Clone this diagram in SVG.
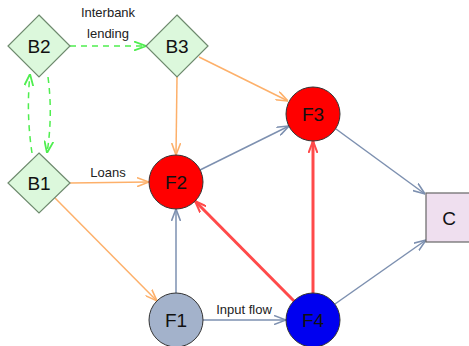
<svg xmlns="http://www.w3.org/2000/svg" width="469" height="346" viewBox="0 0 469 346">
<defs>
<style>
.lbl{font-family:"Liberation Sans",Arial,sans-serif;font-size:19px;fill:#111;text-anchor:middle}
.elbl{font-family:"Liberation Sans",Arial,sans-serif;font-size:13px;fill:#222;text-anchor:middle}
.dia{fill:#dcf8dc;stroke:#6e8a6e;stroke-width:1.2}
.circ{stroke:#333;stroke-width:1}
.e{fill:none}
.or{stroke:#fdb06a;stroke-width:1.5}
.bl{stroke:#7d90b0;stroke-width:1.5}
.rd{stroke:#ff4a4a;stroke-width:3}
.gr{stroke:#4fee4f;stroke-width:1.5;stroke-dasharray:6,5}
</style>
<marker id="aor" viewBox="0 0 12 10" refX="12" refY="5" markerWidth="12" markerHeight="10" markerUnits="userSpaceOnUse" orient="auto"><path d="M0,0.5 L12,5 L0,9.5" fill="none" stroke="#fdb06a" stroke-width="1.6"/></marker>
<marker id="abl" viewBox="0 0 12 10" refX="12" refY="5" markerWidth="12" markerHeight="10" markerUnits="userSpaceOnUse" orient="auto"><path d="M0,0.5 L12,5 L0,9.5" fill="none" stroke="#7d90b0" stroke-width="1.6"/></marker>
<marker id="ard" viewBox="0 0 12 10" refX="12" refY="5" markerWidth="12" markerHeight="10" markerUnits="userSpaceOnUse" orient="auto"><path d="M0,0.5 L12,5 L0,9.5" fill="none" stroke="#ff4a4a" stroke-width="2"/></marker>
<marker id="agr" viewBox="0 0 12 10" refX="12" refY="5" markerWidth="12" markerHeight="10" markerUnits="userSpaceOnUse" orient="auto"><path d="M0,0.5 L12,5 L0,9.5" fill="none" stroke="#4fee4f" stroke-width="1.8"/></marker>
</defs>
<rect width="469" height="346" fill="#fff"/>
<g id="connectors">
<path class="e gr" d="M70,46 L146,46" marker-end="url(#agr)"/>
<path class="e gr" d="M32,153 Q26,113 30,74" marker-end="url(#agr)"/>
<path class="e gr" d="M48,77 Q53,115 47,153" marker-end="url(#agr)"/>
<path class="e or" d="M177,77 L176,155" marker-end="url(#aor)"/>
<path class="e or" d="M199,57 L288,101" marker-end="url(#aor)"/>
<path class="e or" d="M70,183 L149,182" marker-end="url(#aor)"/>
<path class="e or" d="M55,198 L157,301" marker-end="url(#aor)"/>
<path class="e bl" d="M176,293 L176,209" marker-end="url(#abl)"/>
<path class="e bl" d="M200,170 L289,126" marker-end="url(#abl)"/>
<path class="e bl" d="M203,320 L286,320" marker-end="url(#abl)"/>
<path class="e bl" d="M336,129 L425,194" marker-end="url(#abl)"/>
<path class="e bl" d="M335,304 L426,240" marker-end="url(#abl)"/>
<path class="e rd" d="M294,301 L195,201" marker-end="url(#ard)"/>
<path class="e rd" d="M313,293 L313,141" marker-end="url(#ard)"/>
<text class="elbl" x="108" y="17">Interbank</text>
<text class="elbl" x="108" y="38">lending</text>
<text class="elbl" x="108" y="177">Loans</text>
<text class="elbl" x="244" y="314">Input flow</text>
</g>
<g id="B2"><polygon class="dia" points="39,15 70,46 39,77 8,46"/><text class="lbl" x="39" y="53">B2</text></g>
<g id="B3"><polygon class="dia" points="177,15 208,46 177,77 146,46"/><text class="lbl" x="177" y="53">B3</text></g>
<g id="B1"><polygon class="dia" points="39,153 70,183 39,213 8,183"/><text class="lbl" x="39" y="190">B1</text></g>
<g id="F2"><circle class="circ" cx="176" cy="182" r="27" fill="#ff0000"/><text class="lbl" x="176" y="189">F2</text></g>
<g id="F3"><circle class="circ" cx="313" cy="114" r="27" fill="#ff0000"/><text class="lbl" x="313" y="121">F3</text></g>
<g id="F1"><circle class="circ" cx="176" cy="320" r="27" fill="#a3b2cb"/><text class="lbl" x="176" y="327">F1</text></g>
<g id="F4"><circle class="circ" cx="313" cy="320" r="27" fill="#0000f0"/><text class="lbl" x="313" y="327">F4</text></g>
<g id="C"><rect x="426" y="193" width="46" height="49" fill="#efdfef" stroke="#666" stroke-width="1.2"/><text class="lbl" x="449" y="225">C</text></g>
</svg>
